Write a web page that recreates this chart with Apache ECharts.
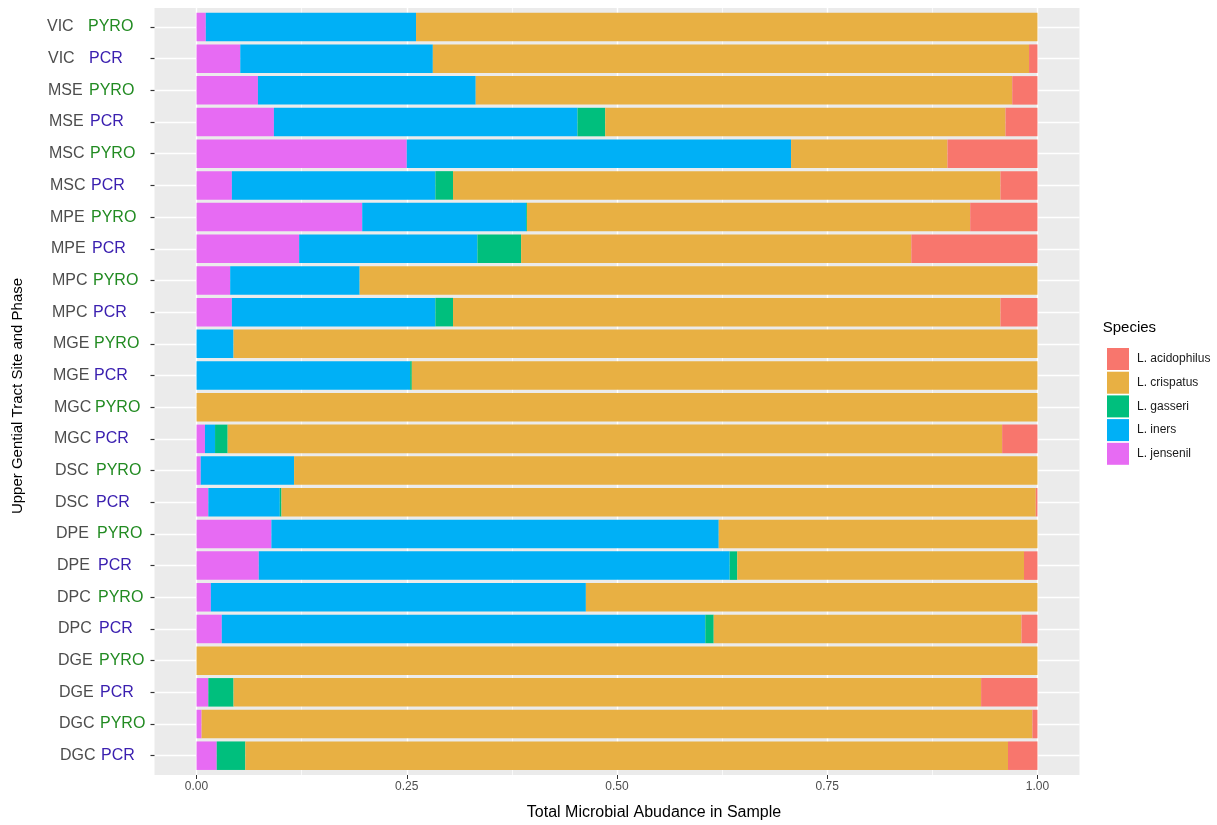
<!DOCTYPE html>
<html>
<head>
<meta charset="utf-8">
<script src="https://cdn.jsdelivr.net/npm/echarts@6/dist/echarts.min.js"></script>
<style>
  html, body { margin: 0; padding: 0; background: #ffffff; }
  #main { width: 1217px; height: 825px; }
</style>
</head>
<body>
<div id="main"></div>
<script>
// Sites and sequencing phases, listed top to bottom
const categories = [
  'VIC PYRO', 'VIC PCR', 'MSE PYRO', 'MSE PCR', 'MSC PYRO', 'MSC PCR',
  'MPE PYRO', 'MPE PCR', 'MPC PYRO', 'MPC PCR', 'MGE PYRO', 'MGE PCR',
  'MGC PYRO', 'MGC PCR', 'DSC PYRO', 'DSC PCR', 'DPE PYRO', 'DPE PCR',
  'DPC PYRO', 'DPC PCR', 'DGE PYRO', 'DGE PCR', 'DGC PYRO', 'DGC PCR'
];

// Relative abundance of each species per sample (each row sums to 1)
const jensenil    = [0.011, 0.052, 0.073, 0.092, 0.250, 0.042, 0.197, 0.122, 0.040, 0.042, 0, 0, 0, 0.010, 0.005, 0.014, 0.089, 0.074, 0.017, 0.030, 0, 0.014, 0.006, 0.024];
const iners       = [0.250, 0.229, 0.259, 0.361, 0.457, 0.242, 0.195, 0.212, 0.154, 0.242, 0.044, 0.254, 0, 0.012, 0.111, 0.085, 0.532, 0.560, 0.446, 0.575, 0, 0, 0, 0];
const gasseri     = [0, 0, 0, 0.033, 0, 0.021, 0.001, 0.052, 0, 0.021, 0, 0.002, 0, 0.015, 0, 0.002, 0, 0.009, 0, 0.010, 0, 0.030, 0, 0.034];
const crispatus   = [0.739, 0.709, 0.638, 0.476, 0.186, 0.651, 0.527, 0.464, 0.806, 0.651, 0.956, 0.744, 1, 0.921, 0.884, 0.897, 0.379, 0.341, 0.537, 0.366, 1, 0.889, 0.988, 0.907];
const acidophilus = [0, 0.010, 0.030, 0.038, 0.107, 0.044, 0.080, 0.150, 0, 0.044, 0, 0, 0, 0.042, 0, 0.002, 0, 0.016, 0, 0.019, 0, 0.067, 0.006, 0.035];

// Species names (legend order) and x-axis ticks
const speciesNames = ['L. acidophilus', 'L. crispatus', 'L. gasseri', 'L. iners', 'L. jensenil'];
const xTicks = [0, 0.25, 0.5, 0.75, 1];

const FONT = '"Liberation Sans", Arial, Helvetica, sans-serif';
const colors = {
  'L. acidophilus': '#F8766D',
  'L. crispatus': '#E8B043',
  'L. gasseri': '#00BF7D',
  'L. iners': '#00B0F6',
  'L. jensenil': '#E76BF3'
};

// Stacking order from the left edge of each bar
const stackOrder = [
  ['L. jensenil', jensenil],
  ['L. iners', iners],
  ['L. gasseri', gasseri],
  ['L. crispatus', crispatus],
  ['L. acidophilus', acidophilus]
];

// Panel geometry
const panel = { left: 154.5, top: 8, width: 925, height: 767 };
const rowCenterTop = 27, rowCenterBottom = 755.7;
const band = (rowCenterBottom - rowCenterTop) / (categories.length - 1);

// Rich text styles for the two-colour y labels
const rich = {
  PYRO: { color: '#228B22', fontSize: 16, fontFamily: FONT },
  PCR: { color: '#3B20B0', fontSize: 16, fontFamily: FONT }
};
categories.forEach((c, i) => {
  rich['s' + i] = {
    color: '#4D4D4D', fontSize: 16, fontFamily: FONT, width: 41,
    padding: [0, 0, 0, Math.round(i * 13 / (categories.length - 1))]
  };
});

const hiddenLine = { show: true, onZero: false, lineStyle: { color: 'rgba(0,0,0,0)', width: 1 } };

const chart = echarts.init(document.getElementById('main'), null, { renderer: 'canvas' });

const barSeries = stackOrder.map(([name, values]) => ({
  name: name,
  type: 'bar',
  stack: 'total',
  xAxisIndex: 2,
  yAxisIndex: 2,
  barCategoryGap: '10%',
  itemStyle: { color: colors[name] },
  z: 3,
  data: values
}));

chart.setOption({
  animation: false,
  backgroundColor: '#ffffff',
  grid: [
    { left: panel.left, top: panel.top, width: panel.width, height: panel.height,
      show: true, backgroundColor: '#EBEBEB', borderWidth: 0, z: -1 },
    { left: 196.5, top: panel.top, width: 841, height: panel.height },
    { left: panel.left, top: rowCenterTop - band / 2, width: panel.width, height: band * categories.length }
  ],
  xAxis: [
    { gridIndex: 0, type: 'value', show: false, min: 0, max: 1 },
    {
      gridIndex: 1, type: 'value', min: xTicks[0], max: xTicks[xTicks.length - 1], interval: 0.25,
      axisLine: hiddenLine,
      axisTick: { show: true, length: 4, lineStyle: { color: '#333333', width: 1 } },
      axisLabel: {
        color: '#4D4D4D', fontSize: 12, fontFamily: FONT, margin: 6,
        formatter: v => v.toFixed(2)
      },
      splitLine: { show: true, lineStyle: { color: '#ffffff', width: 1.4 } },
      minorTick: { show: false, splitNumber: 2 },
      minorSplitLine: { show: true, lineStyle: { color: '#ffffff', width: 0.7 } }
    },
    { gridIndex: 2, type: 'value', min: -0.05, max: 1.05, show: false }
  ],
  yAxis: [
    { gridIndex: 0, type: 'value', show: false },
    { gridIndex: 1, type: 'value', show: false },
    {
      gridIndex: 2, type: 'category', inverse: true, data: categories, z: 6,
      axisLine: hiddenLine,
      axisTick: { show: true, alignWithLabel: true, interval: 0, inside: false, length: 4,
                  lineStyle: { color: '#333333', width: 1.2 } },
      splitLine: { show: false },
      axisLabel: {
        align: 'left', margin: 107.5, rich: rich, interval: 0,
        formatter: (value, index) => {
          const [site, phase] = value.split(' ');
          return '{s' + index + '|' + site + '}{' + phase + '|' + phase + '}';
        }
      }
    }
  ],
  legend: {
    orient: 'vertical', left: 1102, top: 343,
    itemWidth: 22, itemHeight: 22, itemGap: 1.7, icon: 'rect',
    selectedMode: false,
    data: speciesNames,
    textStyle: { fontSize: 12, color: '#1A1A1A', fontFamily: FONT, padding: [0, 0, 0, 3] }
  },
  graphic: [
    { type: 'text', x: 654, y: 813, silent: true,
      style: { text: 'Total Microbial Abudance in Sample', fontSize: 16, fontFamily: FONT,
               fill: '#000000', align: 'center', verticalAlign: 'middle' } },
    { type: 'text', x: 18, y: 396, rotation: Math.PI / 2, silent: true,
      style: { text: 'Upper Gential Tract Site and Phase', fontSize: 15, fontFamily: FONT,
               fill: '#000000', align: 'center', verticalAlign: 'middle' } },
    { type: 'text', x: 1102.7, y: 328, silent: true,
      style: { text: 'Species', fontSize: 15, fontFamily: FONT,
               fill: '#000000', align: 'left', verticalAlign: 'middle' } }
  ],
  series: [
    {
      // horizontal white grid lines through each row centre, under the bars
      type: 'line', xAxisIndex: 2, yAxisIndex: 2, data: [], silent: true, z: 1,
      markLine: {
        z: 1,
        symbol: 'none', silent: true, label: { show: false },
        lineStyle: { color: '#ffffff', width: 1.4, type: 'solid' },
        data: categories.map(c => ({ yAxis: c }))
      }
    }
  ].concat(barSeries)
});
</script>
</body>
</html>
